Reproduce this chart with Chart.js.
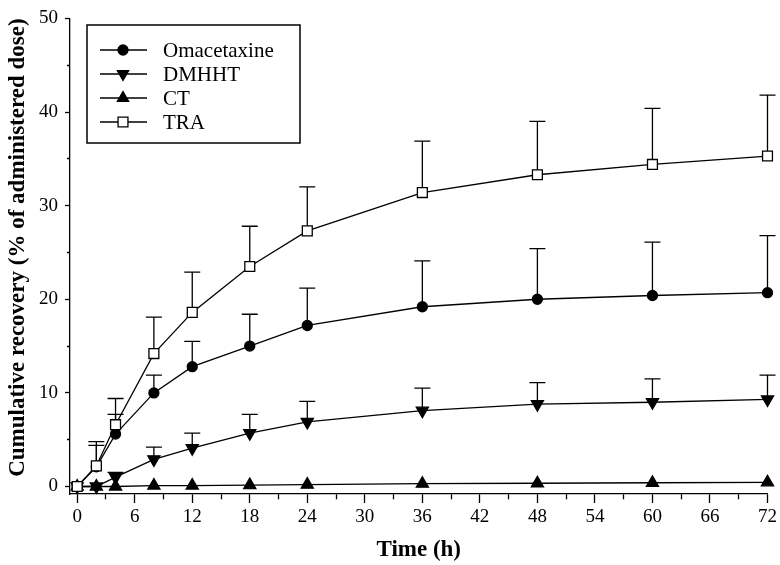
<!DOCTYPE html>
<html>
<head>
<meta charset="utf-8">
<script src="https://cdn.jsdelivr.net/npm/chart.js@4.4.1/dist/chart.umd.min.js"></script>
<style>
  html, body { margin: 0; padding: 0; background: #fff; }
  #wrap { width: 780px; height: 565px; position: relative; }
</style>
</head>
<body>
<div id="wrap"><canvas id="recChart"></canvas></div>
<script>
// ----- data -----
const times = [0, 2, 4, 8, 12, 18, 24, 36, 48, 60, 72];

const omaVals  = [0, 2.1, 5.6, 10.0, 12.8, 15.0, 17.2, 19.2, 20.0, 20.4, 20.7];
const omaUp    = [null, 4.4, 7.7, 11.9, 15.5, 18.4, 21.2, 24.1, 25.4, 26.1, 26.8];

const dmhhtVals = [0, 0, 1.0, 2.9, 4.1, 5.7, 6.9, 8.1, 8.8, 9.0, 9.3];
const dmhhtUp   = [null, null, 1.5, 4.2, 5.7, 7.7, 9.1, 10.5, 11.1, 11.5, 11.9];

const ctVals = [0, 0, 0, 0.1, 0.1, 0.15, 0.2, 0.3, 0.35, 0.4, 0.45];

const traVals = [0, 2.2, 6.6, 14.2, 18.6, 23.5, 27.3, 31.4, 33.3, 34.4, 35.3];
const traUp   = [null, 4.8, 9.4, 18.1, 22.9, 27.8, 32.0, 36.9, 39.0, 40.4, 41.8];

// tick values
const xMajor = [0, 6, 12, 18, 24, 30, 36, 42, 48, 54, 60, 66, 72];
const xMinor = [3, 9, 15, 21, 27, 33, 39, 45, 51, 57, 63, 69];
const yMajor = [0, 10, 20, 30, 40, 50];
const yMinor = [5, 15, 25, 35, 45];

const FONT = "'Liberation Serif', 'Times New Roman', serif";

function pts(vals) {
  return times.map((t, i) => ({ x: t, y: vals[i] }));
}

// series definitions (marker style + error tops)
const series = [
  { label: 'Omacetaxine', vals: omaVals,   up: omaUp,   style: 'circle',   radius: 5, rotation: 0,   fill: '#000' },
  { label: 'DMHHT',       vals: dmhhtVals, up: dmhhtUp, style: 'triangle', radius: 7, rotation: 180, fill: '#000' },
  { label: 'CT',          vals: ctVals,    up: null,    style: 'triangle', radius: 7, rotation: 0,   fill: '#000' },
  { label: 'TRA',         vals: traVals,   up: traUp,   style: 'rect',     radius: 7, rotation: 0,   fill: '#fff' },
];

// 上側エラーバーを描く（マーカーの下に描画）
const errorBars = {
  id: 'errorBars',
  beforeDatasetsDraw(chart) {
    const { ctx, scales: { x, y } } = chart;
    ctx.save();
    ctx.strokeStyle = '#000';
    ctx.lineWidth = 1.3;
    series.forEach(s => {
      if (!s.up) return;
      s.up.forEach((u, i) => {
        if (u == null) return;
        const px = x.getPixelForValue(times[i]);
        const py0 = y.getPixelForValue(s.vals[i]);
        const py1 = y.getPixelForValue(u);
        ctx.beginPath();
        ctx.moveTo(px, py0);
        ctx.lineTo(px, py1);
        ctx.moveTo(px - 8, py1);
        ctx.lineTo(px + 8, py1);
        ctx.stroke();
      });
    });
    ctx.restore();
  }
};

// 枠付きの凡例（プロット内左上）
const boxLegend = {
  id: 'boxLegend',
  afterDraw(chart) {
    const ctx = chart.ctx;
    const bx = 87, by = 25, bw = 213, bh = 118;
    ctx.save();
    ctx.strokeStyle = '#000';
    ctx.lineWidth = 1.5;
    ctx.strokeRect(bx, by, bw, bh);
    ctx.font = '21px ' + FONT;
    ctx.textBaseline = 'middle';
    series.forEach((s, i) => {
      const ry = 50 + i * 24;
      ctx.beginPath();
      ctx.lineWidth = 1.3;
      ctx.moveTo(100, ry);
      ctx.lineTo(147, ry);
      ctx.stroke();
      ctx.fillStyle = s.fill;
      ctx.lineWidth = 1.3;
      Chart.helpers.drawPoint(ctx, {
        pointStyle: s.style, radius: s.style === 'circle' ? 5 : (s.style === 'rect' ? 7 : 6.5),
        rotation: s.rotation, borderWidth: 1.3
      }, 123, ry);
      ctx.fillStyle = '#000';
      ctx.fillText(s.label, 163, ry + 1);
    });
    ctx.restore();
  }
};

const datasets = series.map((s, i) => ({
  label: s.label,
  data: pts(s.vals),
  borderColor: '#000',
  borderWidth: 1.3,
  backgroundColor: s.fill,
  pointBackgroundColor: s.fill,
  pointBorderColor: '#000',
  pointBorderWidth: 1.3,
  pointStyle: s.style,
  pointRadius: s.radius,
  pointRotation: s.rotation,
  tension: 0,
  fill: false,
  clip: false,
  order: s.label === 'TRA' ? 0 : i + 1,
}));

new Chart(document.getElementById('recChart'), {
  type: 'line',
  data: { datasets },
  plugins: [errorBars, boxLegend],
  options: {
    responsive: true,
    maintainAspectRatio: false,
    animation: false,
    layout: { padding: { left: 0, right: 12, top: 10, bottom: 0 } },
    plugins: { legend: { display: false }, tooltip: { enabled: false } },
    scales: {
      x: {
        type: 'linear',
        min: -0.75, max: 72,
        afterBuildTicks: s => { s.ticks = [...xMajor, ...xMinor].sort((a, b) => a - b).map(v => ({ value: v })); },
        afterFit: s => { s.height = 71; },
        border: { display: true, color: '#000', width: 1.3 },
        grid: {
          drawOnChartArea: false, drawTicks: true, tickLength: 9,
          tickColor: '#000', tickWidth: 1.3,
          tickBorderDash: c => xMajor.includes(c.tick && c.tick.value) ? [] : [5, 100],
        },
        ticks: {
          autoSkip: false, maxRotation: 0, padding: 3, color: '#000',
          font: { family: FONT, size: 19 },
          callback: v => xMajor.includes(v) ? String(v) : '',
        },
        title: {
          display: true, text: 'Time (h)', color: '#000',
          font: { family: FONT, size: 23, weight: 'bold' },
          padding: { top: 2, bottom: 1 },
        },
      },
      y: {
        type: 'linear',
        min: -0.8, max: 50,
        afterBuildTicks: s => { s.ticks = [...yMajor, ...yMinor].sort((a, b) => a - b).map(v => ({ value: v })); },
        afterFit: s => { s.width = 70; },
        border: { display: true, color: '#000', width: 1.3 },
        grid: {
          drawOnChartArea: false, drawTicks: true, tickLength: 5,
          tickColor: '#000', tickWidth: 1.3,
          tickBorderDash: c => yMajor.includes(c.tick && c.tick.value) ? [] : [0, 2, 3, 100],
        },
        ticks: {
          autoSkip: false, padding: 7, color: '#000',
          font: { family: FONT, size: 19 },
          callback: v => yMajor.includes(v) ? String(v) : '',
        },
        title: {
          display: true, text: 'Cumulative recovery (% of administered dose)', color: '#000',
          align: 'end',
          font: { family: FONT, size: 23, weight: 'bold' },
          padding: { top: 4, bottom: 4 },
        },
      },
    },
  },
});
</script>
</body>
</html>
